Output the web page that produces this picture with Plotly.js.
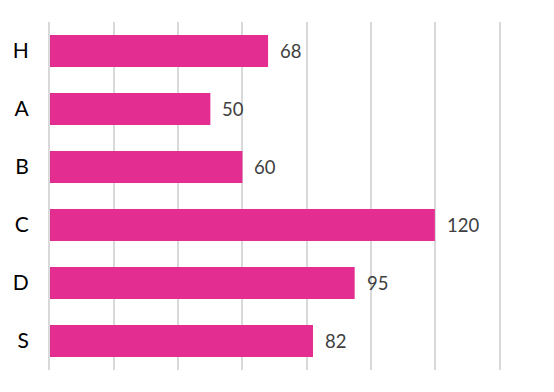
<!DOCTYPE html>
<html>
<head>
<meta charset="utf-8">
<script src="https://cdn.plot.ly/plotly-3.0.1.min.js"></script>
<style>html,body{margin:0;padding:0;background:#fff}</style>
</head>
<body>
<div id="chart" style="width:554px;height:392px"></div>
<script>
const categories = ["H", "A", "B", "C", "D", "S"];
const values = [68, 50, 60, 120, 95, 82];

const annotations = categories.map((c, i) => ({
  x: values[i], y: c, xref: 'x', yref: 'y',
  text: String(values[i]), showarrow: false,
  xanchor: 'left', xshift: 10,
  font: {family: 'Lato, "Open Sans", sans-serif', size: 18.5, color: '#404040'}
}));

const trace = {
  type: 'bar', orientation: 'h',
  x: values, y: categories,
  marker: {color: '#e32d91'},
  hoverinfo: 'none'
};

const layout = {
  width: 554, height: 392,
  margin: {l: 50, r: 55, t: 22, b: 22},
  paper_bgcolor: '#fff', plot_bgcolor: '#fff',
  bargap: 0.45,
  showlegend: false,
  xaxis: {
    range: [0, 140], dtick: 20, tick0: 0,
    showgrid: true, gridcolor: '#d9d9d9', gridwidth: 2,
    showticklabels: false, zeroline: false, showline: false, ticks: ''
  },
  yaxis: {
    autorange: 'reversed', showgrid: false, zeroline: false,
    showline: true, mirror: true, linecolor: '#d9d9d9', linewidth: 2,
    ticks: '', ticklabelstandoff: 15,
    tickfont: {family: 'Lato, "Open Sans", sans-serif', size: 21, color: '#000'}
  },
  annotations: annotations
};

Plotly.newPlot('chart', [trace], layout, {displayModeBar: false, staticPlot: true});
</script>
</body>
</html>
